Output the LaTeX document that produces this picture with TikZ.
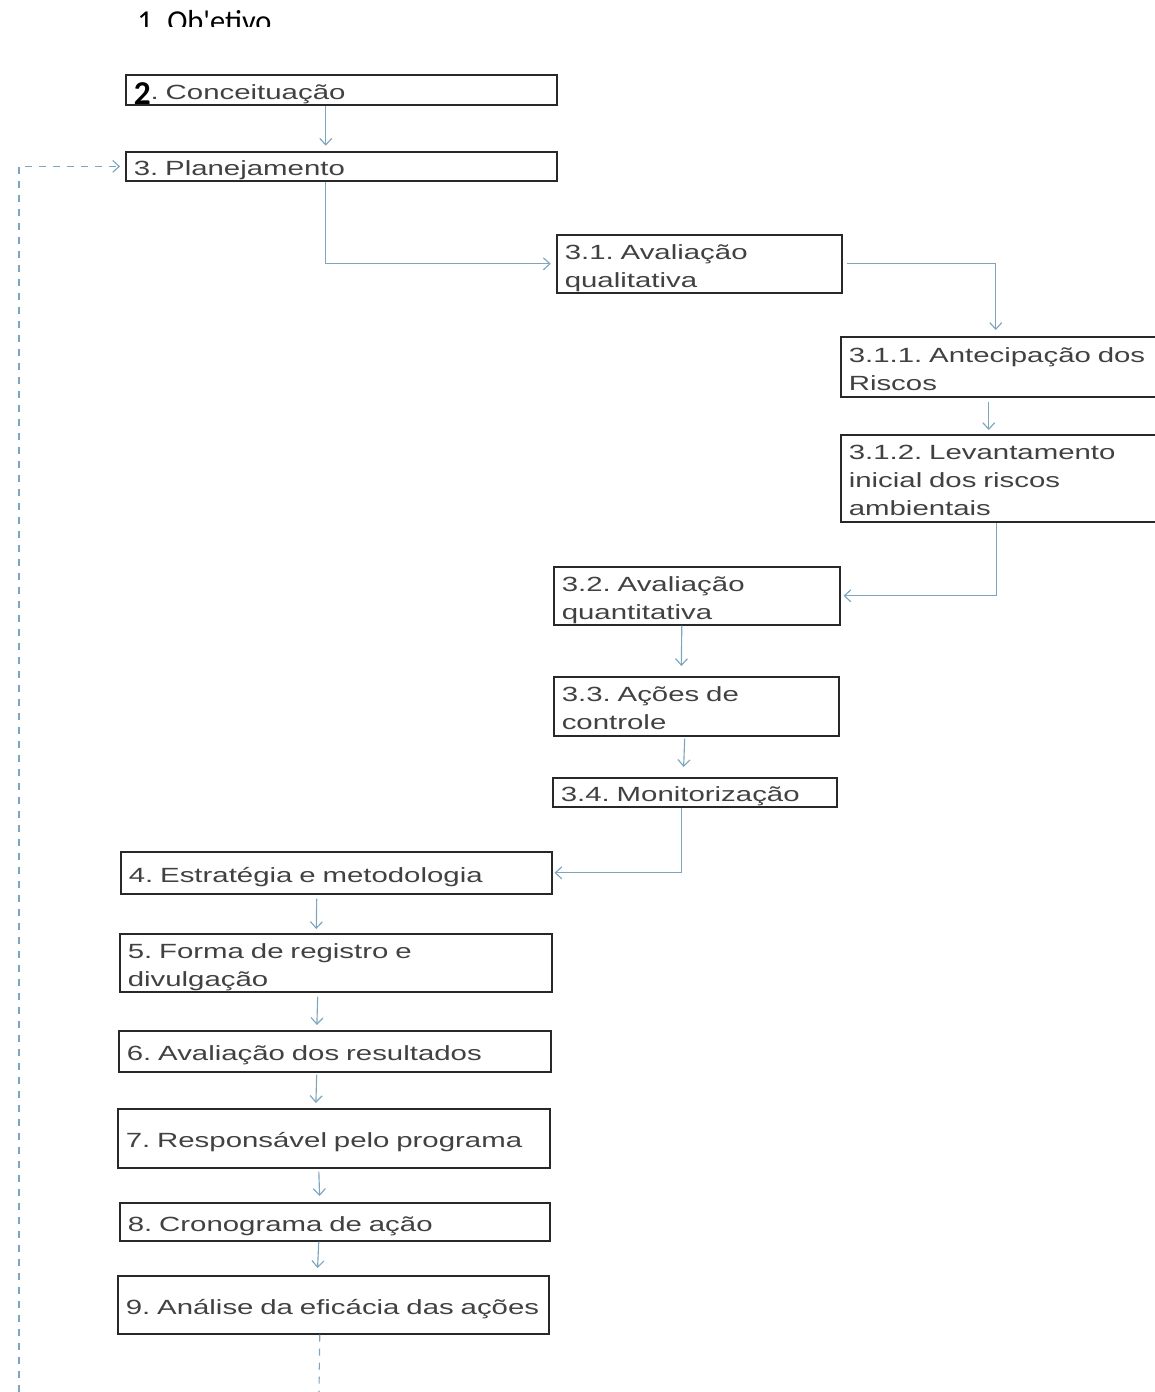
\documentclass[tikz,border=0pt]{standalone}
\usepackage{fontspec}
\usepackage{xcolor}
\usepackage{tikz}
\usetikzlibrary{positioning,calc,arrows.meta}

\newfontfamily\boxfont[FakeStretch=1.43]{Liberation Sans}
\newfontfamily\calib{Carlito}
\definecolor{boxline}{RGB}{40,40,40}
\definecolor{txt}{RGB}{65,65,65}
\definecolor{arrowc}{RGB}{125,165,190}
\frenchspacing

\tikzset{
  pbox/.style={draw=boxline, line width=0.9pt, text=txt, font=\boxfont\fontsize{11.7}{15.9}\selectfont,
    align=left, anchor=north west, inner xsep=0.16cm, inner ysep=0pt,
    execute at begin node={\rule{0pt}{13.6pt}}, execute at end node={\rule[-3pt]{0pt}{0pt}}},
  arr/.style={draw=arrowc, line width=0.65pt, shorten >=1.5pt, -{Straight Barb[length=1.3mm,width=2.4mm]}},
  dashline/.style={draw=arrowc, line width=0.65pt, dash pattern=on 0.14cm off 0.14cm},
  backline/.style={dashline, shorten >=0.1cm, -{Straight Barb[length=1.3mm,width=2.4mm]}}
}

\begin{document}
\begin{tikzpicture}[x=0.02cm, y=-0.02cm]
    \useasboundingbox (0,0) rectangle (1155,1392);
    \clip (0,0) rectangle (1155,1392);
    \begin{scope}
        \clip (0,0) rectangle (1155,26.5);
        \node[anchor=base west, inner sep=0pt, font=\calib\fontsize{17.3}{18}\selectfont] (obj) at (137,31.5) {1. Ob'etivo};
    \end{scope}
    % main chain
    \node[pbox, text width=8.30cm, minimum height=0.60cm] (b2) at (125,74)
        {\smash{\raisebox{-0.1cm}{\calib\bfseries\fontsize{19}{19}\selectfont\color{black}2}}. Conceituação};
    \node[pbox, text width=8.30cm, minimum height=0.58cm] (b3) at (125,151) {3. Planejamento};
    \node[pbox, text width=5.38cm, minimum height=1.16cm] (b31) at (556,234) {3.1. Avaliação\\qualitativa};
    \node[pbox, text width=6.28cm, minimum height=1.20cm] (b311) at (840,336) {3.1.1. Antecipação dos\\Riscos};
    \node[pbox, text width=6.28cm, minimum height=1.74cm] (b312) at (840,434) {3.1.2. Levantamento\\inicial dos riscos\\ambientais};
    \node[pbox, text width=5.40cm, minimum height=1.16cm] (b32) at (553,566) {3.2. Avaliação\\quantitativa};
    \node[pbox, text width=5.38cm, minimum height=1.18cm] (b33) at (553,676) {3.3. Ações de\\controle};
    \node[pbox, text width=5.36cm, minimum height=0.58cm] (b34) at (552,777) {3.4. Monitorização};
    \node[pbox, text width=8.30cm, minimum height=0.84cm] (b4) at (120,851) {4. Estratégia e metodologia};
    \node[pbox, text width=8.32cm, minimum height=1.16cm] (b5) at (119,933) {5. Forma de registro e\\divulgação};
    \node[pbox, text width=8.32cm, minimum height=0.82cm] (b6) at (118,1030) {6. Avaliação dos resultados};
    \node[pbox, text width=8.32cm, minimum height=1.18cm] (b7) at (117,1108) {7. Responsável pelo programa};
    \node[pbox, text width=8.28cm, minimum height=0.76cm] (b8) at (119,1202) {8. Cronograma de ação};
    \node[pbox, text width=8.30cm, minimum height=1.16cm] (b9) at (117,1275) {\mbox{9. Análise da eficácia das ações}};
    \coordinate (tailend) at (319,1392);
    \coordinate (loopend) at (19,1392);
    % connectors
    \draw[arr, shorten >=3pt] ([xshift=-0.31cm]b2.south) -- ([xshift=-0.31cm]b3.north);
    \draw[arr, shorten >=3pt] ([xshift=-0.31cm]b3.south) |- (b31.west);
    \draw[arr, shorten <=0.08cm, shorten >=0.12cm] (b31.east) -| ([xshift=-0.2cm]b311.north);
    \draw[arr, shorten <=0.08cm, shorten >=0.08cm] ([xshift=-0.34cm]b311.south) -- ([xshift=-0.34cm]b312.north);
    \draw[arr, shorten >=0.06cm] ([xshift=-0.18cm]b312.south) |- (b32.east);
    \draw[arr, shorten >=0.2cm] ([xshift=-0.3cm]b32.south) -- ([xshift=-0.3cm]b33.north);
    \draw[arr, shorten <=0.04cm, shorten >=0.2cm] ([xshift=-0.23cm]b33.south) -- ([xshift=-0.23cm]b34.north);
    \draw[arr, shorten >=0.04cm] ([xshift=-0.26cm]b34.south) |- (b4.east);
    \draw[arr, shorten <=0.08cm, shorten >=0.08cm] ([xshift=-0.39cm]b4.south) -- ([xshift=-0.39cm]b5.north);
    \draw[arr, shorten <=0.08cm, shorten >=0.1cm] ([xshift=-0.36cm]b5.south) -- ([xshift=-0.36cm]b6.north);
    \draw[arr, shorten <=0.04cm, shorten >=0.1cm] ([xshift=-0.36cm]b6.south) -- ([xshift=-0.36cm]b7.north);
    \draw[arr, shorten <=0.06cm, shorten >=0.12cm] ([xshift=-0.3cm]b7.south) -- ([xshift=-0.3cm]b8.north);
    \draw[arr, shorten >=0.14cm] ([xshift=-0.32cm]b8.south) -- ([xshift=-0.32cm]b9.north);
    \draw[dashline] ([xshift=-0.27cm]b9.south) -- (tailend);
    \draw[backline] (loopend) |- (b3.west);
\end{tikzpicture}
\end{document}
